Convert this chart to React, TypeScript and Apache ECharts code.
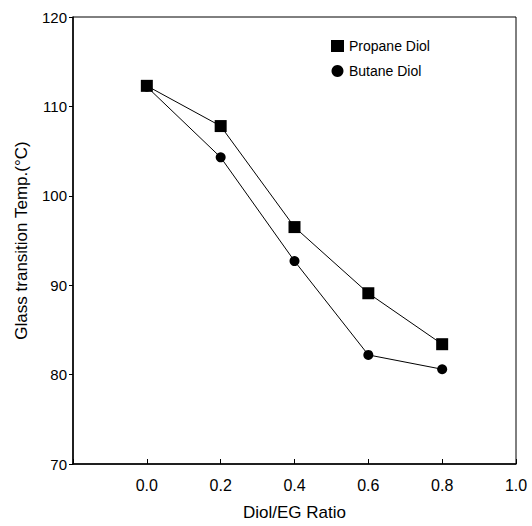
import React, { useEffect, useRef } from "react";
import * as echarts from "echarts";

const ratios = [0.0, 0.2, 0.4, 0.6, 0.8];
const propaneDiol = [112.3, 107.8, 96.5, 89.1, 83.4];
const butaneDiol = [112.2, 104.3, 92.7, 82.2, 80.6];
const seriesNames = ["Propane Diol", "Butane Diol"];

export default function App() {
  const ref = useRef<HTMLDivElement>(null);
  useEffect(() => {
    if (!ref.current) return;
    document.body.style.margin = "0";
    const chart = echarts.init(ref.current, null, { renderer: "svg" });
    const font = "Liberation Sans, Arial, sans-serif";
    chart.setOption({
      animation: false,
      backgroundColor: "#fff",
      grid: {
        left: 73,
        right: 16,
        top: 17,
        bottom: 61,
        show: true,
        borderColor: "#000",
        borderWidth: 1,
      },
      legend: {
        orient: "vertical",
        left: 326,
        top: 34,
        itemGap: 11,
        itemWidth: 13,
        itemHeight: 12,
        textStyle: { fontFamily: font, fontSize: 14, color: "#000" },
        data: [
          { name: seriesNames[0], icon: "rect" },
          { name: seriesNames[1], icon: "circle" },
        ],
      },
      xAxis: {
        type: "value",
        min: -0.2,
        max: 1.0,
        interval: 0.2,
        name: "Diol/EG Ratio",
        nameLocation: "middle",
        nameGap: 40,
        nameTextStyle: { fontFamily: font, fontSize: 17, color: "#000" },
        axisLine: { show: true, onZero: false, lineStyle: { color: "#000", width: 1.5 } },
        axisTick: { show: true, inside: true, length: 5, lineStyle: { color: "#000" } },
        axisLabel: {
          fontFamily: font,
          fontSize: 16,
          color: "#000",
          margin: 13,
          formatter: (v: number) => (v < -0.01 ? "" : v.toFixed(1)),
        },
        splitLine: { show: false },
      },
      yAxis: {
        type: "value",
        min: 70,
        max: 120,
        interval: 10,
        name: "Glass transition Temp.(°C)",
        nameLocation: "middle",
        nameGap: 43,
        nameTextStyle: { fontFamily: font, fontSize: 17, color: "#000" },
        axisLine: { show: true, onZero: false, lineStyle: { color: "#000", width: 1.5 } },
        axisTick: { show: true, inside: false, length: 4, lineStyle: { color: "#000" } },
        axisLabel: { fontFamily: font, fontSize: 15, color: "#000", margin: 6 },
        splitLine: { show: false },
      },
      series: [
        {
          name: seriesNames[1],
          type: "line",
          data: ratios.map((r, i) => [r, butaneDiol[i]]),
          symbol: "circle",
          symbolSize: 10,
          itemStyle: { color: "#000" },
          lineStyle: { color: "#000", width: 1 },
          z: 2,
        },
        {
          name: seriesNames[0],
          type: "line",
          data: ratios.map((r, i) => [r, propaneDiol[i]]),
          symbol: "rect",
          symbolSize: 12,
          itemStyle: { color: "#000" },
          lineStyle: { color: "#000", width: 1 },
          z: 3,
        },
      ],
    });
    return () => chart.dispose();
  }, []);
  return <div ref={ref} style={{ width: 532, height: 526 }} />;
}
